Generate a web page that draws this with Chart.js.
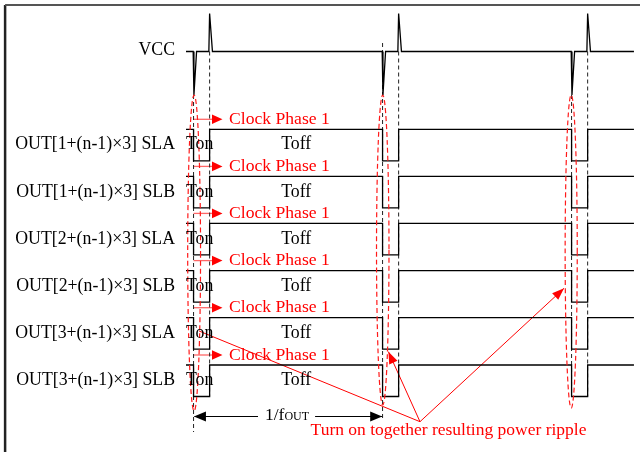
<!DOCTYPE html>
<html><head><meta charset="utf-8">
<script src="https://cdn.jsdelivr.net/npm/chart.js@4"></script>
<style>html,body{margin:0;padding:0;background:#fff}canvas{display:block}</style>
</head><body>
<canvas id="c" width="640" height="452"></canvas>
<script>
// ---- data (time in units where one output period 1/fOUT = 100) ----
const signalNames = ['OUT[1+(n-1)×3] SLA','OUT[1+(n-1)×3] SLB','OUT[2+(n-1)×3] SLA','OUT[2+(n-1)×3] SLB','OUT[3+(n-1)×3] SLA','OUT[3+(n-1)×3] SLB'];
const signalTime  = [-4, 0, 0, 8.5, 8.5, 100, 100, 108.5, 108.5, 200, 200, 208.5, 208.5, 233];
const signalLevel = [1, 1, 0, 0, 1, 1, 0, 0, 1, 1, 0, 0, 1, 1];
const rowHighY = [129.3, 176.4, 223.4, 270.6, 317.7, 365];
const SWING = 31.5;
const vccTime = [-4, -0.2, 0.2, 1.6, 8.1, 8.5, 10.0, 99.8, 100.2, 101.6, 108.1, 108.5, 110.0, 199.8, 200.2, 201.6, 208.1, 208.5, 210.0, 233];
const vccY    = [51.5, 51.5, 95, 51.5, 51.5, 13.5, 51.5, 51.5, 95, 51.5, 51.5, 13.5, 51.5, 51.5, 95, 51.5, 51.5, 13.5, 51.5, 51.5];
const guideT      = [0, 8.5, 100, 108.5, 200, 208.5];
const guideTop    = [95, 51.5, 43, 51.5, 95, 51.5];
const guideBottom = [432, 396.5, 420, 396.5, 396.5, 396.5];
const ellipseT  = [0.3, 100.1, 199.8];
const ellipseY  = [253, 250, 251.5];
const ellipseRy = [158, 155, 156.5];
const ellipseRx = [3.4, 3.3, 3.2];
const rippleFrom = [119.8, 421.7];
const rippleTo   = [[103.1, 351.7, true], [196.0, 288.3, true], [2.9, 331, false]];
const periodArrowY = 416.5;

// ---- scale ----
const T_MIN = -102.4, T_MAX = 236.2;
const FRAME_T = -99.7, FRAME_Y = 5;

function pts(ts, ys){ return ts.map((t,i)=>({x:t,y:ys[i]})); }
function ds(data, color, width, dash){
  return {data, borderColor:color, borderWidth:width, borderDash:dash||[], showLine:true, pointRadius:0, fill:false, tension:0};
}
const datasets = [];
// frame
datasets.push(ds(pts([FRAME_T, T_MAX],[FRAME_Y, FRAME_Y]), '#555', 2));
datasets.push(ds(pts([FRAME_T, FRAME_T],[FRAME_Y, 452]), '#222', 2.5));
// VCC
datasets.push(ds(pts(vccTime, vccY), '#000', 1.3));
// signals
rowHighY.forEach(h=>{
  datasets.push(ds(pts(signalTime, signalLevel.map(l=>h+(1-l)*SWING)), '#000', 1.3));
});
// guides
guideT.forEach((t,i)=>{
  datasets.push(ds(pts([t,t],[guideTop[i], guideBottom[i]]), '#222', 1, [4,3]));
});
// clock phase arrows lines
rowHighY.forEach(h=>{
  datasets.push(ds(pts([0, 10],[h-10, h-10]), 'rgba(255,40,40,0.7)', 1.3));
});
// period arrow lines
datasets.push(ds(pts([34.1, 0.5],[periodArrowY, periodArrowY]), '#000', 1.2));
datasets.push(ds(pts([64.3, 100],[periodArrowY, periodArrowY]), '#000', 1.2));
// ripple arrows
rippleTo.forEach(p=>{
  datasets.push(ds(pts([rippleFrom[0], p[0]],[rippleFrom[1], p[1]]), '#ff0000', 1));
});

const FONT = '"Liberation Serif","Times New Roman",serif';
const deco = {
  id:'deco',
  afterDatasetsDraw(chart){
    const ctx = chart.ctx, xs = chart.scales.x, ys = chart.scales.y;
    const X = t=>xs.getPixelForValue(t), Y = v=>ys.getPixelForValue(v);
    function head(fx,fy,tx,ty,len,hw,color){
      const a = Math.atan2(ty-fy, tx-fx), c=Math.cos(a), s=Math.sin(a);
      const bx = tx-len*c, by = ty-len*s;
      ctx.beginPath(); ctx.moveTo(tx,ty);
      ctx.lineTo(bx - hw*s, by + hw*c); ctx.lineTo(bx + hw*s, by - hw*c);
      ctx.closePath(); ctx.fillStyle=color; ctx.fill();
    }
    ctx.save();
    // ellipses
    ctx.strokeStyle='#ff1a1a'; ctx.lineWidth=1.2; ctx.setLineDash([5,3]);
    ellipseT.forEach((t,i)=>{
      const cx=X(t), cy=Y(ellipseY[i]);
      const rx=Math.abs(X(t+ellipseRx[i])-cx), ry=Math.abs(Y(ellipseY[i]+ellipseRy[i])-cy);
      ctx.beginPath(); ctx.ellipse(cx,cy,rx,ry,0,0,Math.PI*2); ctx.stroke();
    });
    ctx.setLineDash([]);
    // clock phase heads + text
    ctx.font = '17.6px '+FONT; ctx.textBaseline='middle';
    rowHighY.forEach(h=>{
      head(X(0),Y(h-10),X(15.3),Y(h-10),10.5,4.8,'#ff0000');
      ctx.fillStyle='#ff0000'; ctx.textAlign='left';
      ctx.fillText('Clock Phase 1', X(18.8), Y(h-10));
    });
    // labels
    ctx.fillStyle='#000';
    ctx.font = '17.8px '+FONT;
    ctx.textAlign='right'; ctx.fillText('VCC', X(-9.8), Y(50));
    rowHighY.forEach((h,i)=>{
      const m = Y(h+15.5);
      ctx.textAlign='right'; ctx.fillText(signalNames[i], X(-9.8), m);
      ctx.textAlign='left'; ctx.fillText('Ton', X(-4), m);
      ctx.textAlign='center'; ctx.fillText('Toff', X(54.3), m);
    });
    // period arrow heads + text
    head(X(34),Y(periodArrowY),X(0.2),Y(periodArrowY),12,5,'#000');
    head(X(64),Y(periodArrowY),X(99.8),Y(periodArrowY),12,5,'#000');
    ctx.textBaseline='alphabetic'; ctx.textAlign='left';
    ctx.font='17.5px '+FONT;
    const bx = X(37.8), by = Y(419.5);
    ctx.fillText('1/f', bx, by);
    const w = ctx.measureText('1/f').width;
    ctx.font='12px '+FONT;
    ctx.fillText('OUT', bx+w, by);
    // ripple heads + text
    rippleTo.forEach(p=>{
      if(p[2]) head(X(rippleFrom[0]),Y(rippleFrom[1]),X(p[0]),Y(p[1]),12,4.5,'#ff0000');
    });
    ctx.font='17.5px '+FONT; ctx.fillStyle='#ff0000'; ctx.textAlign='center'; ctx.textBaseline='middle';
    ctx.fillText('Turn on together resulting power ripple', X(134.9), Y(430));
    ctx.restore();
  }
};

new Chart(document.getElementById('c'), {
  type:'scatter',
  data:{datasets},
  options:{
    responsive:false, animation:false,
    layout:{padding:0},
    plugins:{legend:{display:false}, tooltip:{enabled:false}},
    scales:{
      x:{type:'linear', min:T_MIN, max:T_MAX, display:false},
      y:{type:'linear', min:0, max:452, reverse:true, display:false}
    }
  },
  plugins:[deco]
});
</script>
</body></html>
